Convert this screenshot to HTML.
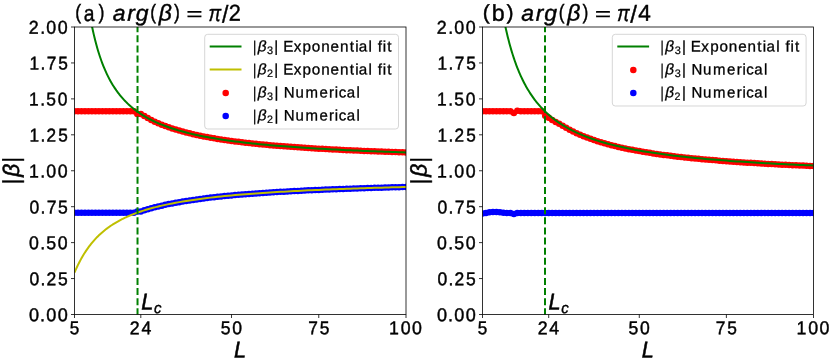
<!DOCTYPE html>
<html><head><meta charset="utf-8"><title>|β| vs L</title>
<style>html,body{margin:0;padding:0;background:#fff;overflow:hidden}body{width:830px;height:359px;font-family:"Liberation Sans",sans-serif}</style></head>
<body>
<svg width="830" height="359" viewBox="0 0 830 359" font-family="'Liberation Sans', sans-serif" fill="#000" style="display:block;font-kerning:none">
<rect width="830" height="359" fill="#fff"/>
<defs>
<clipPath id="cA"><rect x="74.5" y="27" width="331.5" height="287.5"/></clipPath>
<clipPath id="cB"><rect x="482.5" y="27" width="331" height="287.5"/></clipPath>
</defs>
<g clip-path="url(#cA)">
<g fill="#f00"><circle cx="74.5" cy="111.31" r="3.25"/><circle cx="77.99" cy="111.31" r="3.25"/><circle cx="81.48" cy="111.31" r="3.25"/><circle cx="84.97" cy="111.31" r="3.25"/><circle cx="88.46" cy="111.31" r="3.25"/><circle cx="91.95" cy="111.31" r="3.25"/><circle cx="95.44" cy="111.31" r="3.25"/><circle cx="98.93" cy="111.31" r="3.25"/><circle cx="102.42" cy="111.31" r="3.25"/><circle cx="105.91" cy="111.31" r="3.25"/><circle cx="109.39" cy="111.31" r="3.25"/><circle cx="112.88" cy="111.31" r="3.25"/><circle cx="116.37" cy="111.31" r="3.25"/><circle cx="119.86" cy="111.31" r="3.25"/><circle cx="123.35" cy="111.31" r="3.25"/><circle cx="126.84" cy="111.31" r="3.25"/><circle cx="130.33" cy="111.31" r="3.25"/><circle cx="133.82" cy="111.31" r="3.25"/><circle cx="137.31" cy="114.04" r="3.25"/><circle cx="140.8" cy="113.94" r="3.25"/><circle cx="144.29" cy="116.12" r="3.25"/><circle cx="147.78" cy="118.12" r="3.25"/><circle cx="151.27" cy="119.95" r="3.25"/><circle cx="154.76" cy="121.65" r="3.25"/><circle cx="158.25" cy="123.22" r="3.25"/><circle cx="161.74" cy="124.67" r="3.25"/><circle cx="165.23" cy="126.02" r="3.25"/><circle cx="168.72" cy="127.29" r="3.25"/><circle cx="172.21" cy="128.46" r="3.25"/><circle cx="175.69" cy="129.57" r="3.25"/><circle cx="179.18" cy="130.61" r="3.25"/><circle cx="182.67" cy="131.58" r="3.25"/><circle cx="186.16" cy="132.5" r="3.25"/><circle cx="189.65" cy="133.37" r="3.25"/><circle cx="193.14" cy="134.19" r="3.25"/><circle cx="196.63" cy="134.97" r="3.25"/><circle cx="200.12" cy="135.71" r="3.25"/><circle cx="203.61" cy="136.41" r="3.25"/><circle cx="207.1" cy="137.07" r="3.25"/><circle cx="210.59" cy="137.7" r="3.25"/><circle cx="214.08" cy="138.31" r="3.25"/><circle cx="217.57" cy="138.88" r="3.25"/><circle cx="221.06" cy="139.43" r="3.25"/><circle cx="224.55" cy="139.96" r="3.25"/><circle cx="228.04" cy="140.46" r="3.25"/><circle cx="231.53" cy="140.94" r="3.25"/><circle cx="235.02" cy="141.41" r="3.25"/><circle cx="238.51" cy="141.85" r="3.25"/><circle cx="241.99" cy="142.28" r="3.25"/><circle cx="245.48" cy="142.68" r="3.25"/><circle cx="248.97" cy="143.08" r="3.25"/><circle cx="252.46" cy="143.46" r="3.25"/><circle cx="255.95" cy="143.82" r="3.25"/><circle cx="259.44" cy="144.17" r="3.25"/><circle cx="262.93" cy="144.51" r="3.25"/><circle cx="266.42" cy="144.84" r="3.25"/><circle cx="269.91" cy="145.16" r="3.25"/><circle cx="273.4" cy="145.46" r="3.25"/><circle cx="276.89" cy="145.76" r="3.25"/><circle cx="280.38" cy="146.05" r="3.25"/><circle cx="283.87" cy="146.32" r="3.25"/><circle cx="287.36" cy="146.59" r="3.25"/><circle cx="290.85" cy="146.85" r="3.25"/><circle cx="294.34" cy="147.1" r="3.25"/><circle cx="297.83" cy="147.35" r="3.25"/><circle cx="301.32" cy="147.59" r="3.25"/><circle cx="304.81" cy="147.82" r="3.25"/><circle cx="308.29" cy="148.04" r="3.25"/><circle cx="311.78" cy="148.26" r="3.25"/><circle cx="315.27" cy="148.47" r="3.25"/><circle cx="318.76" cy="148.67" r="3.25"/><circle cx="322.25" cy="148.87" r="3.25"/><circle cx="325.74" cy="149.07" r="3.25"/><circle cx="329.23" cy="149.26" r="3.25"/><circle cx="332.72" cy="149.44" r="3.25"/><circle cx="336.21" cy="149.62" r="3.25"/><circle cx="339.7" cy="149.8" r="3.25"/><circle cx="343.19" cy="149.97" r="3.25"/><circle cx="346.68" cy="150.13" r="3.25"/><circle cx="350.17" cy="150.3" r="3.25"/><circle cx="353.66" cy="150.45" r="3.25"/><circle cx="357.15" cy="150.61" r="3.25"/><circle cx="360.64" cy="150.76" r="3.25"/><circle cx="364.13" cy="150.91" r="3.25"/><circle cx="367.62" cy="151.05" r="3.25"/><circle cx="371.11" cy="151.19" r="3.25"/><circle cx="374.59" cy="151.33" r="3.25"/><circle cx="378.08" cy="151.46" r="3.25"/><circle cx="381.57" cy="151.59" r="3.25"/><circle cx="385.06" cy="151.72" r="3.25"/><circle cx="388.55" cy="151.85" r="3.25"/><circle cx="392.04" cy="151.97" r="3.25"/><circle cx="395.53" cy="152.09" r="3.25"/><circle cx="399.02" cy="152.21" r="3.25"/><circle cx="402.51" cy="152.33" r="3.25"/><circle cx="406" cy="152.44" r="3.25"/></g>
<g fill="#00f"><circle cx="74.5" cy="212.87" r="3.25"/><circle cx="77.99" cy="212.87" r="3.25"/><circle cx="81.48" cy="212.87" r="3.25"/><circle cx="84.97" cy="212.87" r="3.25"/><circle cx="88.46" cy="212.87" r="3.25"/><circle cx="91.95" cy="212.87" r="3.25"/><circle cx="95.44" cy="212.87" r="3.25"/><circle cx="98.93" cy="212.87" r="3.25"/><circle cx="102.42" cy="212.87" r="3.25"/><circle cx="105.91" cy="212.87" r="3.25"/><circle cx="109.39" cy="212.87" r="3.25"/><circle cx="112.88" cy="212.87" r="3.25"/><circle cx="116.37" cy="212.87" r="3.25"/><circle cx="119.86" cy="212.87" r="3.25"/><circle cx="123.35" cy="212.87" r="3.25"/><circle cx="126.84" cy="212.87" r="3.25"/><circle cx="130.33" cy="212.87" r="3.25"/><circle cx="133.82" cy="212.87" r="3.25"/><circle cx="137.31" cy="211.42" r="3.25"/><circle cx="140.8" cy="211.47" r="3.25"/><circle cx="144.29" cy="210.34" r="3.25"/><circle cx="147.78" cy="209.28" r="3.25"/><circle cx="151.27" cy="208.28" r="3.25"/><circle cx="154.76" cy="207.35" r="3.25"/><circle cx="158.25" cy="206.47" r="3.25"/><circle cx="161.74" cy="205.64" r="3.25"/><circle cx="165.23" cy="204.86" r="3.25"/><circle cx="168.72" cy="204.12" r="3.25"/><circle cx="172.21" cy="203.42" r="3.25"/><circle cx="175.69" cy="202.76" r="3.25"/><circle cx="179.18" cy="202.13" r="3.25"/><circle cx="182.67" cy="201.53" r="3.25"/><circle cx="186.16" cy="200.96" r="3.25"/><circle cx="189.65" cy="200.41" r="3.25"/><circle cx="193.14" cy="199.9" r="3.25"/><circle cx="196.63" cy="199.4" r="3.25"/><circle cx="200.12" cy="198.93" r="3.25"/><circle cx="203.61" cy="198.47" r="3.25"/><circle cx="207.1" cy="198.04" r="3.25"/><circle cx="210.59" cy="197.62" r="3.25"/><circle cx="214.08" cy="197.22" r="3.25"/><circle cx="217.57" cy="196.83" r="3.25"/><circle cx="221.06" cy="196.46" r="3.25"/><circle cx="224.55" cy="196.11" r="3.25"/><circle cx="228.04" cy="195.77" r="3.25"/><circle cx="231.53" cy="195.44" r="3.25"/><circle cx="235.02" cy="195.12" r="3.25"/><circle cx="238.51" cy="194.81" r="3.25"/><circle cx="241.99" cy="194.52" r="3.25"/><circle cx="245.48" cy="194.23" r="3.25"/><circle cx="248.97" cy="193.95" r="3.25"/><circle cx="252.46" cy="193.69" r="3.25"/><circle cx="255.95" cy="193.43" r="3.25"/><circle cx="259.44" cy="193.18" r="3.25"/><circle cx="262.93" cy="192.94" r="3.25"/><circle cx="266.42" cy="192.7" r="3.25"/><circle cx="269.91" cy="192.47" r="3.25"/><circle cx="273.4" cy="192.25" r="3.25"/><circle cx="276.89" cy="192.04" r="3.25"/><circle cx="280.38" cy="191.83" r="3.25"/><circle cx="283.87" cy="191.63" r="3.25"/><circle cx="287.36" cy="191.43" r="3.25"/><circle cx="290.85" cy="191.24" r="3.25"/><circle cx="294.34" cy="191.06" r="3.25"/><circle cx="297.83" cy="190.88" r="3.25"/><circle cx="301.32" cy="190.7" r="3.25"/><circle cx="304.81" cy="190.53" r="3.25"/><circle cx="308.29" cy="190.36" r="3.25"/><circle cx="311.78" cy="190.2" r="3.25"/><circle cx="315.27" cy="190.04" r="3.25"/><circle cx="318.76" cy="189.89" r="3.25"/><circle cx="322.25" cy="189.74" r="3.25"/><circle cx="325.74" cy="189.59" r="3.25"/><circle cx="329.23" cy="189.45" r="3.25"/><circle cx="332.72" cy="189.31" r="3.25"/><circle cx="336.21" cy="189.17" r="3.25"/><circle cx="339.7" cy="189.04" r="3.25"/><circle cx="343.19" cy="188.91" r="3.25"/><circle cx="346.68" cy="188.78" r="3.25"/><circle cx="350.17" cy="188.66" r="3.25"/><circle cx="353.66" cy="188.53" r="3.25"/><circle cx="357.15" cy="188.42" r="3.25"/><circle cx="360.64" cy="188.3" r="3.25"/><circle cx="364.13" cy="188.19" r="3.25"/><circle cx="367.62" cy="188.08" r="3.25"/><circle cx="371.11" cy="187.97" r="3.25"/><circle cx="374.59" cy="187.86" r="3.25"/><circle cx="378.08" cy="187.76" r="3.25"/><circle cx="381.57" cy="187.65" r="3.25"/><circle cx="385.06" cy="187.55" r="3.25"/><circle cx="388.55" cy="187.45" r="3.25"/><circle cx="392.04" cy="187.36" r="3.25"/><circle cx="395.53" cy="187.26" r="3.25"/><circle cx="399.02" cy="187.17" r="3.25"/><circle cx="402.51" cy="187.08" r="3.25"/><circle cx="406" cy="186.99" r="3.25"/></g>
<g fill="none" stroke-width="2" stroke-linejoin="round">
<path d="M74.5 -177.32 L75.37 -155.21 L76.24 -135.57 L77.12 -118.05 L77.99 -102.32 L78.86 -88.15 L79.73 -75.33 L80.61 -63.67 L81.48 -53.04 L82.35 -43.32 L83.22 -34.38 L84.1 -26.15 L84.97 -18.55 L85.84 -11.51 L86.71 -4.98 L87.59 1.11 L88.46 6.78 L89.33 12.09 L90.2 17.05 L91.08 21.72 L91.95 26.1 L92.82 30.23 L93.69 34.13 L94.56 37.81 L95.44 41.29 L96.31 44.59 L97.18 47.72 L98.05 50.69 L98.93 53.52 L99.8 56.21 L100.67 58.77 L101.54 61.22 L102.42 63.56 L103.29 65.79 L104.16 67.93 L105.03 69.98 L105.91 71.95 L106.78 73.83 L107.65 75.64 L108.52 77.38 L109.39 79.06 L110.27 80.67 L111.14 82.22 L112.01 83.71 L112.88 85.15 L113.76 86.54 L114.63 87.89 L115.5 89.18 L116.37 90.44 L117.25 91.65 L118.12 92.82 L118.99 93.96 L119.86 95.06 L120.74 96.13 L121.61 97.16 L122.48 98.16 L123.35 99.14 L124.22 100.08 L125.1 101 L125.97 101.89 L126.84 102.76 L127.71 103.6 L128.59 104.42 L129.46 105.22 L130.33 106 L131.2 106.76 L132.08 107.49 L132.95 108.21 L133.82 108.91 L134.69 109.59 L135.57 110.26 L136.44 110.91 L137.31 111.54 L138.18 112.16 L139.06 112.77 L139.93 113.36 L140.8 113.94 L141.67 114.5 L142.54 115.05 L143.42 115.59 L144.29 116.12 L145.16 116.63 L146.03 117.14 L146.91 117.63 L147.78 118.12 L148.65 118.59 L149.52 119.05 L150.4 119.51 L151.27 119.95 L152.14 120.39 L153.01 120.82 L153.89 121.24 L154.76 121.65 L155.63 122.05 L156.5 122.45 L157.38 122.83 L158.25 123.22 L159.12 123.59 L159.99 123.96 L160.86 124.32 L161.74 124.67 L165.23 126.02 L168.72 127.29 L172.21 128.46 L175.69 129.57 L179.18 130.61 L182.67 131.58 L186.16 132.5 L189.65 133.37 L193.14 134.19 L196.63 134.97 L200.12 135.71 L203.61 136.41 L207.1 137.07 L210.59 137.7 L214.08 138.31 L217.57 138.88 L221.06 139.43 L224.55 139.96 L228.04 140.46 L231.53 140.94 L235.02 141.41 L238.51 141.85 L241.99 142.28 L245.48 142.68 L248.97 143.08 L252.46 143.46 L255.95 143.82 L259.44 144.17 L262.93 144.51 L266.42 144.84 L269.91 145.16 L273.4 145.46 L276.89 145.76 L280.38 146.05 L283.87 146.32 L287.36 146.59 L290.85 146.85 L294.34 147.1 L297.83 147.35 L301.32 147.59 L304.81 147.82 L308.29 148.04 L311.78 148.26 L315.27 148.47 L318.76 148.67 L322.25 148.87 L325.74 149.07 L329.23 149.26 L332.72 149.44 L336.21 149.62 L339.7 149.8 L343.19 149.97 L346.68 150.13 L350.17 150.3 L353.66 150.45 L357.15 150.61 L360.64 150.76 L364.13 150.91 L367.62 151.05 L371.11 151.19 L374.59 151.33 L378.08 151.46 L381.57 151.59 L385.06 151.72 L388.55 151.85 L392.04 151.97 L395.53 152.09 L399.02 152.21 L402.51 152.33 L406 152.44" stroke="#008000"/>
<path d="M74.5 272.48 L75.37 270.51 L76.24 268.59 L77.12 266.73 L77.99 264.92 L78.86 263.18 L79.73 261.49 L80.61 259.86 L81.48 258.28 L82.35 256.75 L83.22 255.27 L84.1 253.84 L84.97 252.46 L85.84 251.12 L86.71 249.82 L87.59 248.56 L88.46 247.35 L89.33 246.17 L90.2 245.03 L91.08 243.92 L91.95 242.85 L92.82 241.81 L93.69 240.8 L94.56 239.82 L95.44 238.87 L96.31 237.94 L97.18 237.04 L98.05 236.17 L98.93 235.32 L99.8 234.5 L100.67 233.7 L101.54 232.91 L102.42 232.15 L103.29 231.41 L104.16 230.69 L105.03 229.99 L105.91 229.31 L106.78 228.64 L107.65 227.99 L108.52 227.35 L109.39 226.73 L110.27 226.13 L111.14 225.54 L112.01 224.96 L112.88 224.4 L113.76 223.85 L114.63 223.31 L115.5 222.79 L116.37 222.28 L117.25 221.77 L118.12 221.28 L118.99 220.8 L119.86 220.33 L120.74 219.87 L121.61 219.42 L122.48 218.98 L123.35 218.55 L124.22 218.13 L125.1 217.71 L125.97 217.31 L126.84 216.91 L127.71 216.52 L128.59 216.14 L129.46 215.76 L130.33 215.39 L131.2 215.03 L132.08 214.68 L132.95 214.33 L133.82 213.99 L134.69 213.65 L135.57 213.32 L136.44 213 L137.31 212.68 L138.18 212.37 L139.06 212.07 L139.93 211.77 L140.8 211.47 L141.67 211.18 L142.54 210.89 L143.42 210.61 L144.29 210.34 L145.16 210.07 L146.03 209.8 L146.91 209.54 L147.78 209.28 L148.65 209.02 L149.52 208.77 L150.4 208.53 L151.27 208.28 L152.14 208.04 L153.01 207.81 L153.89 207.58 L154.76 207.35 L155.63 207.13 L156.5 206.9 L157.38 206.69 L158.25 206.47 L159.12 206.26 L159.99 206.05 L160.86 205.85 L161.74 205.64 L165.23 204.86 L168.72 204.12 L172.21 203.42 L175.69 202.76 L179.18 202.13 L182.67 201.53 L186.16 200.96 L189.65 200.41 L193.14 199.9 L196.63 199.4 L200.12 198.93 L203.61 198.47 L207.1 198.04 L210.59 197.62 L214.08 197.22 L217.57 196.83 L221.06 196.46 L224.55 196.11 L228.04 195.77 L231.53 195.44 L235.02 195.12 L238.51 194.81 L241.99 194.52 L245.48 194.23 L248.97 193.95 L252.46 193.69 L255.95 193.43 L259.44 193.18 L262.93 192.94 L266.42 192.7 L269.91 192.47 L273.4 192.25 L276.89 192.04 L280.38 191.83 L283.87 191.63 L287.36 191.43 L290.85 191.24 L294.34 191.06 L297.83 190.88 L301.32 190.7 L304.81 190.53 L308.29 190.36 L311.78 190.2 L315.27 190.04 L318.76 189.89 L322.25 189.74 L325.74 189.59 L329.23 189.45 L332.72 189.31 L336.21 189.17 L339.7 189.04 L343.19 188.91 L346.68 188.78 L350.17 188.66 L353.66 188.53 L357.15 188.42 L360.64 188.3 L364.13 188.19 L367.62 188.08 L371.11 187.97 L374.59 187.86 L378.08 187.76 L381.57 187.65 L385.06 187.55 L388.55 187.45 L392.04 187.36 L395.53 187.26 L399.02 187.17 L402.51 187.08 L406 186.99" stroke="#bfbf00"/>
<path d="M137.52 315.3V27" stroke="#008000" stroke-dasharray="7 3.11"/>
</g></g>
<g stroke="#000" stroke-width="0.8" fill="none">
<rect x="74.5" y="27" width="331.5" height="287.5"/>
<path d="M74.5 314.5v3.5M140.8 314.5v3.5M231.53 314.5v3.5M318.76 314.5v3.5M406 314.5v3.5M74.5 314.5h-3.5M74.5 278.56h-3.5M74.5 242.62h-3.5M74.5 206.69h-3.5M74.5 170.75h-3.5M74.5 134.81h-3.5M74.5 98.88h-3.5M74.5 62.94h-3.5M74.5 27h-3.5"/>
</g>
<g clip-path="url(#cB)">
<g fill="#f00"><circle cx="482.5" cy="111.31" r="3.25"/><circle cx="485.98" cy="111.31" r="3.25"/><circle cx="489.47" cy="111.31" r="3.25"/><circle cx="492.95" cy="111.31" r="3.25"/><circle cx="496.44" cy="111.31" r="3.25"/><circle cx="499.92" cy="111.31" r="3.25"/><circle cx="503.41" cy="111.31" r="3.25"/><circle cx="506.89" cy="111.31" r="3.25"/><circle cx="510.37" cy="111.31" r="3.25"/><circle cx="513.86" cy="113.11" r="3.25"/><circle cx="517.34" cy="110.73" r="3.25"/><circle cx="520.83" cy="111.31" r="3.25"/><circle cx="524.31" cy="111.31" r="3.25"/><circle cx="527.79" cy="111.31" r="3.25"/><circle cx="531.28" cy="111.31" r="3.25"/><circle cx="534.76" cy="111.31" r="3.25"/><circle cx="538.25" cy="111.31" r="3.25"/><circle cx="541.73" cy="111.31" r="3.25"/><circle cx="545.22" cy="115.84" r="3.25"/><circle cx="548.7" cy="117.65" r="3.25"/><circle cx="552.18" cy="119.99" r="3.25"/><circle cx="555.67" cy="121.94" r="3.25"/><circle cx="559.15" cy="123.81" r="3.25"/><circle cx="562.64" cy="125.64" r="3.25"/><circle cx="566.12" cy="127.73" r="3.25"/><circle cx="569.61" cy="129.66" r="3.25"/><circle cx="573.09" cy="131.46" r="3.25"/><circle cx="576.57" cy="133.13" r="3.25"/><circle cx="580.06" cy="134.69" r="3.25"/><circle cx="583.54" cy="136.15" r="3.25"/><circle cx="587.03" cy="137.53" r="3.25"/><circle cx="590.51" cy="138.82" r="3.25"/><circle cx="593.99" cy="140.03" r="3.25"/><circle cx="597.48" cy="141.18" r="3.25"/><circle cx="600.96" cy="142.26" r="3.25"/><circle cx="604.45" cy="143.28" r="3.25"/><circle cx="607.93" cy="144.25" r="3.25"/><circle cx="611.42" cy="145.17" r="3.25"/><circle cx="614.9" cy="146.04" r="3.25"/><circle cx="618.38" cy="146.88" r="3.25"/><circle cx="621.87" cy="147.67" r="3.25"/><circle cx="625.35" cy="148.42" r="3.25"/><circle cx="628.84" cy="149.14" r="3.25"/><circle cx="632.32" cy="149.83" r="3.25"/><circle cx="635.81" cy="150.49" r="3.25"/><circle cx="639.29" cy="151.12" r="3.25"/><circle cx="642.77" cy="151.73" r="3.25"/><circle cx="646.26" cy="152.31" r="3.25"/><circle cx="649.74" cy="152.86" r="3.25"/><circle cx="653.23" cy="153.4" r="3.25"/><circle cx="656.71" cy="153.91" r="3.25"/><circle cx="660.19" cy="154.41" r="3.25"/><circle cx="663.68" cy="154.88" r="3.25"/><circle cx="667.16" cy="155.34" r="3.25"/><circle cx="670.65" cy="155.79" r="3.25"/><circle cx="674.13" cy="156.21" r="3.25"/><circle cx="677.62" cy="156.63" r="3.25"/><circle cx="681.1" cy="157.02" r="3.25"/><circle cx="684.58" cy="157.41" r="3.25"/><circle cx="688.07" cy="157.78" r="3.25"/><circle cx="691.55" cy="158.14" r="3.25"/><circle cx="695.04" cy="158.49" r="3.25"/><circle cx="698.52" cy="158.83" r="3.25"/><circle cx="702.01" cy="159.16" r="3.25"/><circle cx="705.49" cy="159.47" r="3.25"/><circle cx="708.97" cy="159.78" r="3.25"/><circle cx="712.46" cy="160.08" r="3.25"/><circle cx="715.94" cy="160.37" r="3.25"/><circle cx="719.43" cy="160.65" r="3.25"/><circle cx="722.91" cy="160.93" r="3.25"/><circle cx="726.39" cy="161.19" r="3.25"/><circle cx="729.88" cy="161.45" r="3.25"/><circle cx="733.36" cy="161.71" r="3.25"/><circle cx="736.85" cy="161.95" r="3.25"/><circle cx="740.33" cy="162.19" r="3.25"/><circle cx="743.82" cy="162.42" r="3.25"/><circle cx="747.3" cy="162.65" r="3.25"/><circle cx="750.78" cy="162.87" r="3.25"/><circle cx="754.27" cy="163.09" r="3.25"/><circle cx="757.75" cy="163.3" r="3.25"/><circle cx="761.24" cy="163.5" r="3.25"/><circle cx="764.72" cy="163.7" r="3.25"/><circle cx="768.21" cy="163.9" r="3.25"/><circle cx="771.69" cy="164.09" r="3.25"/><circle cx="775.17" cy="164.27" r="3.25"/><circle cx="778.66" cy="164.45" r="3.25"/><circle cx="782.14" cy="164.63" r="3.25"/><circle cx="785.63" cy="164.81" r="3.25"/><circle cx="789.11" cy="164.98" r="3.25"/><circle cx="792.59" cy="165.14" r="3.25"/><circle cx="796.08" cy="165.3" r="3.25"/><circle cx="799.56" cy="165.46" r="3.25"/><circle cx="803.05" cy="165.62" r="3.25"/><circle cx="806.53" cy="165.77" r="3.25"/><circle cx="810.02" cy="165.92" r="3.25"/><circle cx="813.5" cy="166.07" r="3.25"/></g>
<g fill="#00f"><circle cx="482.5" cy="213.52" r="3.25"/><circle cx="485.98" cy="212.94" r="3.25"/><circle cx="489.47" cy="212.37" r="3.25"/><circle cx="492.95" cy="212.08" r="3.25"/><circle cx="496.44" cy="212.08" r="3.25"/><circle cx="499.92" cy="212.37" r="3.25"/><circle cx="503.41" cy="212.65" r="3.25"/><circle cx="506.89" cy="212.94" r="3.25"/><circle cx="510.37" cy="212.94" r="3.25"/><circle cx="513.86" cy="213.95" r="3.25"/><circle cx="517.34" cy="212.94" r="3.25"/><circle cx="520.83" cy="212.94" r="3.25"/><circle cx="524.31" cy="212.94" r="3.25"/><circle cx="527.79" cy="212.94" r="3.25"/><circle cx="531.28" cy="212.94" r="3.25"/><circle cx="534.76" cy="212.94" r="3.25"/><circle cx="538.25" cy="212.94" r="3.25"/><circle cx="541.73" cy="212.94" r="3.25"/><circle cx="545.22" cy="212.94" r="3.25"/><circle cx="548.7" cy="212.94" r="3.25"/><circle cx="552.18" cy="212.94" r="3.25"/><circle cx="555.67" cy="212.94" r="3.25"/><circle cx="559.15" cy="212.94" r="3.25"/><circle cx="562.64" cy="212.94" r="3.25"/><circle cx="566.12" cy="212.94" r="3.25"/><circle cx="569.61" cy="212.94" r="3.25"/><circle cx="573.09" cy="212.94" r="3.25"/><circle cx="576.57" cy="212.94" r="3.25"/><circle cx="580.06" cy="212.94" r="3.25"/><circle cx="583.54" cy="212.94" r="3.25"/><circle cx="587.03" cy="212.94" r="3.25"/><circle cx="590.51" cy="212.94" r="3.25"/><circle cx="593.99" cy="212.94" r="3.25"/><circle cx="597.48" cy="212.94" r="3.25"/><circle cx="600.96" cy="212.94" r="3.25"/><circle cx="604.45" cy="212.94" r="3.25"/><circle cx="607.93" cy="212.94" r="3.25"/><circle cx="611.42" cy="212.94" r="3.25"/><circle cx="614.9" cy="212.94" r="3.25"/><circle cx="618.38" cy="212.94" r="3.25"/><circle cx="621.87" cy="212.94" r="3.25"/><circle cx="625.35" cy="212.94" r="3.25"/><circle cx="628.84" cy="212.94" r="3.25"/><circle cx="632.32" cy="212.94" r="3.25"/><circle cx="635.81" cy="212.94" r="3.25"/><circle cx="639.29" cy="212.94" r="3.25"/><circle cx="642.77" cy="212.94" r="3.25"/><circle cx="646.26" cy="212.94" r="3.25"/><circle cx="649.74" cy="212.94" r="3.25"/><circle cx="653.23" cy="212.94" r="3.25"/><circle cx="656.71" cy="212.94" r="3.25"/><circle cx="660.19" cy="212.94" r="3.25"/><circle cx="663.68" cy="212.94" r="3.25"/><circle cx="667.16" cy="212.94" r="3.25"/><circle cx="670.65" cy="212.94" r="3.25"/><circle cx="674.13" cy="212.94" r="3.25"/><circle cx="677.62" cy="212.94" r="3.25"/><circle cx="681.1" cy="212.94" r="3.25"/><circle cx="684.58" cy="212.94" r="3.25"/><circle cx="688.07" cy="212.94" r="3.25"/><circle cx="691.55" cy="212.94" r="3.25"/><circle cx="695.04" cy="212.94" r="3.25"/><circle cx="698.52" cy="212.94" r="3.25"/><circle cx="702.01" cy="212.94" r="3.25"/><circle cx="705.49" cy="212.94" r="3.25"/><circle cx="708.97" cy="212.94" r="3.25"/><circle cx="712.46" cy="212.94" r="3.25"/><circle cx="715.94" cy="212.94" r="3.25"/><circle cx="719.43" cy="212.94" r="3.25"/><circle cx="722.91" cy="212.94" r="3.25"/><circle cx="726.39" cy="212.94" r="3.25"/><circle cx="729.88" cy="212.94" r="3.25"/><circle cx="733.36" cy="212.94" r="3.25"/><circle cx="736.85" cy="212.94" r="3.25"/><circle cx="740.33" cy="212.94" r="3.25"/><circle cx="743.82" cy="212.94" r="3.25"/><circle cx="747.3" cy="212.94" r="3.25"/><circle cx="750.78" cy="212.94" r="3.25"/><circle cx="754.27" cy="212.94" r="3.25"/><circle cx="757.75" cy="212.94" r="3.25"/><circle cx="761.24" cy="212.94" r="3.25"/><circle cx="764.72" cy="212.94" r="3.25"/><circle cx="768.21" cy="212.94" r="3.25"/><circle cx="771.69" cy="212.94" r="3.25"/><circle cx="775.17" cy="212.94" r="3.25"/><circle cx="778.66" cy="212.94" r="3.25"/><circle cx="782.14" cy="212.94" r="3.25"/><circle cx="785.63" cy="212.94" r="3.25"/><circle cx="789.11" cy="212.94" r="3.25"/><circle cx="792.59" cy="212.94" r="3.25"/><circle cx="796.08" cy="212.94" r="3.25"/><circle cx="799.56" cy="212.94" r="3.25"/><circle cx="803.05" cy="212.94" r="3.25"/><circle cx="806.53" cy="212.94" r="3.25"/><circle cx="810.02" cy="212.94" r="3.25"/><circle cx="813.5" cy="212.94" r="3.25"/></g>
<g fill="none" stroke-width="2" stroke-linejoin="round">
<path d="M482.5 -250.24 L483.37 -226.75 L484.24 -205.08 L485.11 -185.14 L485.98 -166.78 L486.86 -149.87 L487.73 -134.3 L488.6 -119.92 L489.47 -106.65 L490.34 -94.36 L491.21 -82.96 L492.08 -72.39 L492.95 -62.54 L493.82 -53.37 L494.69 -44.81 L495.57 -36.81 L496.44 -29.31 L497.31 -22.28 L498.18 -15.67 L499.05 -9.45 L499.92 -3.6 L500.79 1.93 L501.66 7.16 L502.53 12.1 L503.41 16.78 L504.28 21.22 L505.15 25.44 L506.02 29.45 L506.89 33.26 L507.76 36.9 L508.63 40.36 L509.5 43.67 L510.37 46.83 L511.24 49.86 L512.12 52.75 L512.99 55.52 L513.86 58.18 L514.73 60.73 L515.6 63.18 L516.47 65.53 L517.34 67.8 L518.21 69.97 L519.08 72.07 L519.96 74.09 L520.83 76.04 L521.7 77.92 L522.57 79.73 L523.44 81.48 L524.31 83.18 L525.18 84.81 L526.05 86.4 L526.92 87.93 L527.79 89.41 L528.67 90.85 L529.54 92.25 L530.41 93.6 L531.28 94.91 L532.15 96.18 L533.02 97.42 L533.89 98.62 L534.76 99.78 L535.63 100.92 L536.51 102.02 L537.38 103.09 L538.25 104.14 L539.12 105.15 L539.99 106.14 L540.86 107.1 L541.73 108.04 L542.6 108.96 L543.47 109.85 L544.34 110.72 L545.22 111.57 L546.09 112.4 L546.96 113.21 L547.83 114 L548.7 114.77 L549.57 115.53 L550.44 116.27 L551.31 116.99 L552.18 117.69 L553.06 118.38 L553.93 119.05 L554.8 119.71 L555.67 120.36 L556.54 120.99 L557.41 121.61 L558.28 122.22 L559.15 122.81 L560.02 123.39 L560.89 123.96 L561.77 124.52 L562.64 125.07 L563.51 125.6 L564.38 126.13 L565.25 126.64 L566.12 127.15 L566.99 127.65 L567.86 128.14 L568.73 128.61 L569.61 129.08 L573.09 130.88 L576.57 132.55 L580.06 134.12 L583.54 135.58 L587.03 136.95 L590.51 138.24 L593.99 139.46 L597.48 140.6 L600.96 141.68 L604.45 142.71 L607.93 143.68 L611.42 144.6 L614.9 145.47 L618.38 146.3 L621.87 147.09 L625.35 147.85 L628.84 148.57 L632.32 149.26 L635.81 149.92 L639.29 150.55 L642.77 151.15 L646.26 151.73 L649.74 152.29 L653.23 152.82 L656.71 153.34 L660.19 153.83 L663.68 154.31 L667.16 154.77 L670.65 155.21 L674.13 155.64 L677.62 156.05 L681.1 156.45 L684.58 156.83 L688.07 157.21 L691.55 157.57 L695.04 157.92 L698.52 158.25 L702.01 158.58 L705.49 158.9 L708.97 159.21 L712.46 159.51 L715.94 159.8 L719.43 160.08 L722.91 160.35 L726.39 160.62 L729.88 160.88 L733.36 161.13 L736.85 161.38 L740.33 161.62 L743.82 161.85 L747.3 162.07 L750.78 162.3 L754.27 162.51 L757.75 162.72 L761.24 162.93 L764.72 163.13 L768.21 163.32 L771.69 163.51 L775.17 163.7 L778.66 163.88 L782.14 164.06 L785.63 164.23 L789.11 164.4 L792.59 164.57 L796.08 164.73 L799.56 164.89 L803.05 165.04 L806.53 165.2 L810.02 165.35 L813.5 165.49" stroke="#008000"/>
<path d="M545.01 315.3V27" stroke="#008000" stroke-dasharray="7 3.11"/>
</g></g>
<g stroke="#000" stroke-width="0.8" fill="none">
<rect x="482.5" y="27" width="331" height="287.5"/>
<path d="M482.5 314.5v3.5M548.7 314.5v3.5M639.29 314.5v3.5M726.39 314.5v3.5M813.5 314.5v3.5M482.5 314.5h-3.5M482.5 278.56h-3.5M482.5 242.62h-3.5M482.5 206.69h-3.5M482.5 170.75h-3.5M482.5 134.81h-3.5M482.5 98.88h-3.5M482.5 62.94h-3.5M482.5 27h-3.5"/>
</g>
<g opacity="0.999">
<g transform="translate(74.4,20.9) rotate(0.03)" stroke="#000" stroke-width="0.42"><text transform="scale(0.8563,1)" font-size="22.52"><tspan font-size="20.79" y="-1.67" x="1.09">(</tspan><tspan y="-0.2" x="10.93">a</tspan><tspan font-size="20.79" y="-1.67" x="28.13">)</tspan></text><text transform="scale(1.0261,1)" font-size="22.34" font-style="italic"><tspan y="-0.3" x="37.33 51.43 59.89">arg</tspan></text><text transform="scale(0.8392,1)" font-size="20.79"><tspan y="-1.67" x="90.41">(</tspan></text><text transform="scale(1.0068,1)" font-size="22.77" font-style="italic"><tspan y="-0.4" x="83.72">β</tspan></text><text transform="scale(0.8392,1)" font-size="20.79"><tspan y="-1.67" x="118.65">)</tspan></text><text transform="scale(1.5053,1)" font-size="18.15"><tspan y="-1.07" x="74.44">=</tspan></text><text transform="scale(0.8365,1)" font-size="22.59" font-style="italic"><tspan y="-0.09" x="160.45">π</tspan></text><text transform="scale(0.9430,1)" font-size="23.02"><tspan font-size="24.3" y="1.53" x="156.53">/</tspan><tspan y="-0.3" x="163.8">2</tspan></text></g>
<g transform="translate(28.32,321.35) rotate(0.03)" stroke="#000" stroke-width="0.45"><text transform="scale(0.9712,1)" font-size="18.59"><tspan y="-0.15" x="0.72 12.14 18.4 30.19">0.00</tspan></text></g>
<g transform="translate(28.69,285.41) rotate(0.03)" stroke="#000" stroke-width="0.45"><text transform="scale(0.9438,1)" font-size="18.53"><tspan y="-0.17" x="0.91 12.58 18.86 31.17">0.25</tspan></text></g>
<g transform="translate(28.32,249.47) rotate(0.03)" stroke="#000" stroke-width="0.45"><text transform="scale(0.9530,1)" font-size="18.59"><tspan y="-0.15" x="0.83 12.43 18.78 30.87">0.50</tspan></text></g>
<g transform="translate(28.69,213.54) rotate(0.03)" stroke="#000" stroke-width="0.45"><text transform="scale(0.9483,1)" font-size="18.53"><tspan y="-0.17" x="0.88 12.51 18.95 30.99">0.75</tspan></text></g>
<g transform="translate(28.32,177.6) rotate(0.03)" stroke="#000" stroke-width="0.45"><text transform="scale(0.9561,1)" font-size="18.59"><tspan y="-0.15" x="0.73 12.38 18.78 30.75">1.00</tspan></text></g>
<g transform="translate(28.69,141.66) rotate(0.03)" stroke="#000" stroke-width="0.45"><text transform="scale(0.9293,1)" font-size="18.49"><tspan y="-0.2" x="0.94 12.82 19.24 31.75">1.25</tspan></text></g>
<g transform="translate(28.32,105.72) rotate(0.03)" stroke="#000" stroke-width="0.45"><text transform="scale(0.9404,1)" font-size="18.53"><tspan y="-0.17" x="0.85 12.64 19.12 31.37">1.50</tspan></text></g>
<g transform="translate(28.69,69.79) rotate(0.03)" stroke="#000" stroke-width="0.45"><text transform="scale(0.9372,1)" font-size="18.42"><tspan y="-0.22" x="0.9 12.7 19.27 31.45">1.75</tspan></text></g>
<g transform="translate(28.32,33.85) rotate(0.03)" stroke="#000" stroke-width="0.45"><text transform="scale(0.9591,1)" font-size="18.59"><tspan y="-0.15" x="0.55 12.33 18.7 30.64">2.00</tspan></text></g>
<g transform="translate(68.87,334.5) rotate(0.03)" stroke="#000" stroke-width="0.45"><text transform="scale(0.9194,1)" font-size="18.53"><tspan y="-0.15" x="0.99">5</tspan></text></g>
<g transform="translate(129.19,334.5) rotate(0.03)" stroke="#000" stroke-width="0.45"><text transform="scale(0.9617,1)" font-size="18.45"><tspan y="-0.23" x="0.57 12.72">24</tspan></text></g>
<g transform="translate(219.98,334.5) rotate(0.03)" stroke="#000" stroke-width="0.45"><text transform="scale(0.9455,1)" font-size="18.56"><tspan y="-0.15" x="0.82 13">50</tspan></text></g>
<g transform="translate(307.36,334.5) rotate(0.03)" stroke="#000" stroke-width="0.45"><text transform="scale(0.9374,1)" font-size="18.48"><tspan y="-0.19" x="0.93 13.11">75</tspan></text></g>
<g transform="translate(388.43,334.5) rotate(0.03)" stroke="#000" stroke-width="0.45"><text transform="scale(0.9561,1)" font-size="18.59"><tspan y="-0.15" x="0.73 12.79 24.77">100</tspan></text></g>
<g transform="translate(233.93,357.8) rotate(0.03)" stroke="#000" stroke-width="0.55"><text transform="scale(0.9573,1)" font-size="22.75" font-style="italic"><tspan y="-0.3" x="0.2">L</tspan></text></g>
<g transform="translate(19.4,185.1) rotate(-89.97)" stroke="#000" stroke-width="0.55"><text transform="scale(0.7601,1)" font-size="23.14"><tspan y="-0.03" x="1.92">|</tspan></text><text transform="scale(1.0031,1)" font-size="22.63" font-style="italic"><tspan y="-0.44" x="8.27">β</tspan></text><text transform="scale(0.7601,1)" font-size="23.14"><tspan y="-0.03" x="30.43">|</tspan></text></g>
<g transform="translate(141.1,309.75) rotate(0.03)" stroke="#000" stroke-width="0.55"><text transform="scale(0.9573,1)" font-size="22.75" font-style="italic"><tspan y="-0.3" x="0.2">L</tspan><tspan font-size="15.6" stroke-width="0.39" y="3.5" x="13.59">c</tspan></text></g>
<g transform="translate(482.4,20.9) rotate(0.03)" stroke="#000" stroke-width="0.42"><text transform="scale(1.0167,1)" font-size="22.85"><tspan font-size="20.79" y="-1.67" x="0.28">(</tspan><tspan y="-0.2" x="9.25">b</tspan><tspan font-size="20.79" y="-1.67" x="23.72">)</tspan></text><text transform="scale(1.0261,1)" font-size="22.34" font-style="italic"><tspan y="-0.3" x="37.81 51.91 60.36">arg</tspan></text><text transform="scale(0.8392,1)" font-size="20.79"><tspan y="-1.67" x="90.99">(</tspan></text><text transform="scale(1.0068,1)" font-size="22.77" font-style="italic"><tspan y="-0.4" x="84.2">β</tspan></text><text transform="scale(0.8392,1)" font-size="20.79"><tspan y="-1.67" x="119.24">)</tspan></text><text transform="scale(1.5053,1)" font-size="18.15"><tspan y="-1.07" x="74.77">=</tspan></text><text transform="scale(0.8365,1)" font-size="22.59" font-style="italic"><tspan y="-0.09" x="161.03">π</tspan></text><text transform="scale(0.9855,1)" font-size="22.94"><tspan font-size="24.3" y="1.53" x="150.12">/</tspan><tspan y="-0.3" x="158.08">4</tspan></text></g>
<g transform="translate(436.32,321.35) rotate(0.03)" stroke="#000" stroke-width="0.45"><text transform="scale(0.9712,1)" font-size="18.59"><tspan y="-0.15" x="0.72 12.14 18.4 30.19">0.00</tspan></text></g>
<g transform="translate(436.69,285.41) rotate(0.03)" stroke="#000" stroke-width="0.45"><text transform="scale(0.9438,1)" font-size="18.53"><tspan y="-0.17" x="0.91 12.58 18.86 31.17">0.25</tspan></text></g>
<g transform="translate(436.32,249.47) rotate(0.03)" stroke="#000" stroke-width="0.45"><text transform="scale(0.9530,1)" font-size="18.59"><tspan y="-0.15" x="0.83 12.43 18.78 30.87">0.50</tspan></text></g>
<g transform="translate(436.69,213.54) rotate(0.03)" stroke="#000" stroke-width="0.45"><text transform="scale(0.9483,1)" font-size="18.53"><tspan y="-0.17" x="0.88 12.51 18.95 30.99">0.75</tspan></text></g>
<g transform="translate(436.32,177.6) rotate(0.03)" stroke="#000" stroke-width="0.45"><text transform="scale(0.9561,1)" font-size="18.59"><tspan y="-0.15" x="0.73 12.38 18.78 30.75">1.00</tspan></text></g>
<g transform="translate(436.69,141.66) rotate(0.03)" stroke="#000" stroke-width="0.45"><text transform="scale(0.9293,1)" font-size="18.49"><tspan y="-0.2" x="0.94 12.82 19.24 31.75">1.25</tspan></text></g>
<g transform="translate(436.32,105.72) rotate(0.03)" stroke="#000" stroke-width="0.45"><text transform="scale(0.9404,1)" font-size="18.53"><tspan y="-0.17" x="0.85 12.64 19.12 31.37">1.50</tspan></text></g>
<g transform="translate(436.69,69.79) rotate(0.03)" stroke="#000" stroke-width="0.45"><text transform="scale(0.9372,1)" font-size="18.42"><tspan y="-0.22" x="0.9 12.7 19.27 31.45">1.75</tspan></text></g>
<g transform="translate(436.32,33.85) rotate(0.03)" stroke="#000" stroke-width="0.45"><text transform="scale(0.9591,1)" font-size="18.59"><tspan y="-0.15" x="0.55 12.33 18.7 30.64">2.00</tspan></text></g>
<g transform="translate(476.87,334.5) rotate(0.03)" stroke="#000" stroke-width="0.45"><text transform="scale(0.9194,1)" font-size="18.53"><tspan y="-0.15" x="0.99">5</tspan></text></g>
<g transform="translate(537.09,334.5) rotate(0.03)" stroke="#000" stroke-width="0.45"><text transform="scale(0.9617,1)" font-size="18.45"><tspan y="-0.23" x="0.57 12.72">24</tspan></text></g>
<g transform="translate(627.74,334.5) rotate(0.03)" stroke="#000" stroke-width="0.45"><text transform="scale(0.9455,1)" font-size="18.56"><tspan y="-0.15" x="0.82 13">50</tspan></text></g>
<g transform="translate(714.99,334.5) rotate(0.03)" stroke="#000" stroke-width="0.45"><text transform="scale(0.9374,1)" font-size="18.48"><tspan y="-0.19" x="0.93 13.11">75</tspan></text></g>
<g transform="translate(795.93,334.5) rotate(0.03)" stroke="#000" stroke-width="0.45"><text transform="scale(0.9561,1)" font-size="18.59"><tspan y="-0.15" x="0.73 12.79 24.77">100</tspan></text></g>
<g transform="translate(641.68,357.8) rotate(0.03)" stroke="#000" stroke-width="0.55"><text transform="scale(0.9573,1)" font-size="22.75" font-style="italic"><tspan y="-0.3" x="0.2">L</tspan></text></g>
<g transform="translate(427,185.1) rotate(-89.97)" stroke="#000" stroke-width="0.55"><text transform="scale(0.7601,1)" font-size="23.14"><tspan y="-0.03" x="1.92">|</tspan></text><text transform="scale(1.0031,1)" font-size="22.63" font-style="italic"><tspan y="-0.44" x="8.27">β</tspan></text><text transform="scale(0.7601,1)" font-size="23.14"><tspan y="-0.03" x="30.43">|</tspan></text></g>
<g transform="translate(548.2,309.75) rotate(0.03)" stroke="#000" stroke-width="0.55"><text transform="scale(0.9573,1)" font-size="22.75" font-style="italic"><tspan y="-0.3" x="0.2">L</tspan><tspan font-size="15.6" stroke-width="0.39" y="3.5" x="13.59">c</tspan></text></g>
<rect x="204.7" y="34.3" width="193.8" height="94.7" rx="3" fill="#fff" fill-opacity="0.8" stroke="#ccc" stroke-opacity="0.8" stroke-width="1"/>
<path d="M209.7 46.6h31.8" stroke="#008000" stroke-width="2" fill="none"/>
<g transform="translate(252.1,51.6) rotate(0.03)" stroke="#000" stroke-width="0.3"><text transform="scale(0.7916,1)" font-size="15.7"><tspan y="0" x="1.15">|</tspan></text><text transform="scale(1.0061,1)" font-size="15.35" font-style="italic"><tspan y="-0.28" x="5.53">β</tspan></text><text transform="scale(1.0008,1)" font-size="15.24"><tspan font-size="10.92" stroke-width="0.21" y="2.34" x="14.93">3</tspan><tspan y="-0.21" x="22.25 24.85 31.12 41.57 50.47 59.72 69.08 78.44 87.8 97.54 103.03 106.6 116.37 118.74 125.63 130.58 135.13">| Exponential fit</tspan></text></g>
<path d="M209.7 69.6h31.8" stroke="#bfbf00" stroke-width="2" fill="none"/>
<g transform="translate(252.1,74.6) rotate(0.03)" stroke="#000" stroke-width="0.3"><text transform="scale(0.7916,1)" font-size="15.7"><tspan y="0" x="1.15">|</tspan></text><text transform="scale(1.0061,1)" font-size="15.35" font-style="italic"><tspan y="-0.28" x="5.53">β</tspan></text><text transform="scale(1.0008,1)" font-size="15.24"><tspan font-size="10.86" stroke-width="0.21" y="2.3" x="14.79">2</tspan><tspan y="-0.21" x="22.25 24.85 31.12 41.57 50.47 59.72 69.08 78.44 87.8 97.54 103.03 106.6 116.37 118.74 125.63 130.58 135.13">| Exponential fit</tspan></text></g>
<circle cx="225.7" cy="93" r="3.25" fill="#f00"/>
<g transform="translate(252.1,97.6) rotate(0.03)" stroke="#000" stroke-width="0.3"><text transform="scale(0.7916,1)" font-size="15.7"><tspan y="0" x="1.15">|</tspan></text><text transform="scale(1.0061,1)" font-size="15.35" font-style="italic"><tspan y="-0.28" x="5.53">β</tspan></text><text transform="scale(0.9906,1)" font-size="15.17"><tspan font-size="10.92" stroke-width="0.21" y="2.34" x="15.11">3</tspan><tspan y="-0.18" x="22.5 25.1 32.02 43.71 53.86 67.98 77.72 83.48 87.46 95.45 105.28">| Numerical</tspan></text></g>
<circle cx="225.7" cy="116" r="3.25" fill="#00f"/>
<g transform="translate(252.1,120.6) rotate(0.03)" stroke="#000" stroke-width="0.3"><text transform="scale(0.7916,1)" font-size="15.7"><tspan y="0" x="1.15">|</tspan></text><text transform="scale(1.0061,1)" font-size="15.35" font-style="italic"><tspan y="-0.28" x="5.53">β</tspan></text><text transform="scale(0.9906,1)" font-size="15.17"><tspan font-size="10.86" stroke-width="0.21" y="2.3" x="14.97">2</tspan><tspan y="-0.18" x="22.5 25.1 32.02 43.71 53.86 67.98 77.72 83.48 87.46 95.45 105.28">| Numerical</tspan></text></g>
<rect x="612.3" y="34.3" width="193.8" height="71.7" rx="3" fill="#fff" fill-opacity="0.8" stroke="#ccc" stroke-opacity="0.8" stroke-width="1"/>
<path d="M617.3 46.6h31.8" stroke="#008000" stroke-width="2" fill="none"/>
<g transform="translate(659.7,51.6) rotate(0.03)" stroke="#000" stroke-width="0.3"><text transform="scale(0.7916,1)" font-size="15.7"><tspan y="0" x="1.15">|</tspan></text><text transform="scale(1.0061,1)" font-size="15.35" font-style="italic"><tspan y="-0.28" x="5.53">β</tspan></text><text transform="scale(1.0008,1)" font-size="15.24"><tspan font-size="10.92" stroke-width="0.21" y="2.34" x="14.93">3</tspan><tspan y="-0.21" x="22.25 24.85 31.12 41.57 50.47 59.72 69.08 78.44 87.8 97.54 103.03 106.6 116.37 118.74 125.63 130.58 135.13">| Exponential fit</tspan></text></g>
<circle cx="633.3" cy="70" r="3.25" fill="#f00"/>
<g transform="translate(659.7,74.6) rotate(0.03)" stroke="#000" stroke-width="0.3"><text transform="scale(0.7916,1)" font-size="15.7"><tspan y="0" x="1.15">|</tspan></text><text transform="scale(1.0061,1)" font-size="15.35" font-style="italic"><tspan y="-0.28" x="5.53">β</tspan></text><text transform="scale(0.9906,1)" font-size="15.17"><tspan font-size="10.92" stroke-width="0.21" y="2.34" x="15.11">3</tspan><tspan y="-0.18" x="22.5 25.1 32.02 43.71 53.86 67.98 77.72 83.48 87.46 95.45 105.28">| Numerical</tspan></text></g>
<circle cx="633.3" cy="93" r="3.25" fill="#00f"/>
<g transform="translate(659.7,97.6) rotate(0.03)" stroke="#000" stroke-width="0.3"><text transform="scale(0.7916,1)" font-size="15.7"><tspan y="0" x="1.15">|</tspan></text><text transform="scale(1.0061,1)" font-size="15.35" font-style="italic"><tspan y="-0.28" x="5.53">β</tspan></text><text transform="scale(0.9906,1)" font-size="15.17"><tspan font-size="10.86" stroke-width="0.21" y="2.3" x="14.97">2</tspan><tspan y="-0.18" x="22.5 25.1 32.02 43.71 53.86 67.98 77.72 83.48 87.46 95.45 105.28">| Numerical</tspan></text></g>
</g>
</svg>
</body></html>
